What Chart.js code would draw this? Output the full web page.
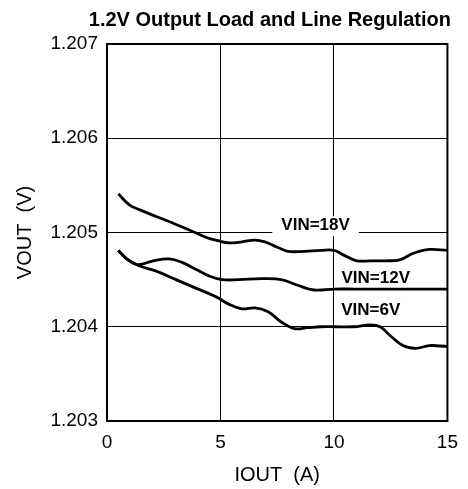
<!DOCTYPE html>
<html>
<head>
<meta charset="utf-8">
<script src="https://cdn.jsdelivr.net/npm/chart.js@4"></script>
<style>
  html, body { margin: 0; padding: 0; background: #fff; }
  #wrap { width: 468px; height: 489px; }
</style>
</head>
<body>
<div id="wrap"><canvas id="chart" width="468" height="489"></canvas></div>
<script>
const xTicks = [0, 5, 10, 15]
const yTicks = [1.203, 1.204, 1.205, 1.206, 1.207]

/* VIN = 18V */
const iout18 = [0.5, 1.0, 1.45, 2.17, 2.9, 3.6, 4.35, 4.93, 5.36, 5.94, 6.52, 6.96, 7.54, 7.97, 8.7, 9.42, 10.0, 10.43, 11.0, 11.6, 12.3, 12.9, 13.5, 14.2, 15]
const vout18 = [1.20541, 1.20529, 1.20524, 1.20517, 1.2051, 1.20503, 1.20495, 1.20491, 1.20489, 1.2049, 1.20492, 1.2049, 1.20484, 1.2048, 1.2048, 1.20481, 1.20481, 1.20476, 1.2047, 1.2047, 1.2047, 1.20471, 1.20478, 1.20482, 1.20481]

/* VIN = 12V */
const iout12 = [0.5, 0.87, 1.38, 2.03, 2.75, 3.33, 3.91, 4.49, 5.07, 5.8, 6.81, 7.68, 8.4, 9.13, 10.0, 10.87, 15]
const vout12 = [1.20481, 1.20472, 1.20466, 1.2047, 1.20472, 1.20468, 1.20461, 1.20454, 1.2045, 1.2045, 1.20451, 1.2045, 1.20444, 1.20439, 1.2044, 1.2044, 1.2044]

/* VIN = 6V */
const iout6 = [0.5, 0.87, 1.38, 2.17, 3.04, 3.91, 4.78, 5.36, 5.94, 6.52, 7.1, 7.68, 8.26, 8.84, 9.42, 10.0, 10.87, 11.6, 12.03, 12.46, 13.04, 13.6, 14.2, 15]
const vout6 = [1.20481, 1.20472, 1.20465, 1.20459, 1.2045, 1.20441, 1.20432, 1.20424, 1.20419, 1.2042, 1.20416, 1.20405, 1.20398, 1.20399, 1.204, 1.204, 1.204, 1.20402, 1.204, 1.20391, 1.2038, 1.20377, 1.2038, 1.20379]

/* curve labels, in data units */
const labelText = ["VIN=18V", "VIN=12V", "VIN=6V"]
const labelX = [9.19, 11.84, 11.62]
const labelY = [1.205088, 1.204524, 1.204181]

const FONT = "'Liberation Sans', Arial, sans-serif"

function pts(xs, ys) {
    return xs.map((x, i) => ({ x: x, y: ys[i] }))
}

function series(xs, ys) {
    return {
        data: pts(xs, ys),
        borderColor: "#000",
        borderWidth: 2.8,
        pointRadius: 0,
        tension: 0.4,
        fill: false
    }
}

const frame = {
    id: "frame",
    afterDatasetsDraw(chart) {
        const ctx = chart.ctx
        const a = chart.chartArea
        const sx = chart.scales.x, sy = chart.scales.y
        ctx.save()
        ctx.font = "bold 17px " + FONT
        ctx.textAlign = "center"
        ctx.textBaseline = "middle"
        labelText.forEach((t, i) => {
            const px = sx.getPixelForValue(labelX[i])
            const py = sy.getPixelForValue(labelY[i])
            if (i === 0) {
                const w = ctx.measureText(t).width
                ctx.fillStyle = "#fff"
                ctx.fillRect(px - w / 2 - 9, py - 8, w + 18, 20)
            }
            ctx.fillStyle = "#000"
            ctx.fillText(t, px, py + 1)
        })
        ctx.strokeStyle = "#000"
        ctx.lineWidth = 2
        ctx.strokeRect(a.left, a.top, a.right - a.left, a.bottom - a.top)
        ctx.restore()
    }
}

new Chart(document.getElementById("chart"), {
    type: "line",
    data: {
        datasets: [series(iout18, vout18), series(iout12, vout12), series(iout6, vout6)]
    },
    options: {
        responsive: false,
        animation: false,
        layout: { padding: { left: 0, right: 17, top: 0, bottom: 0 } },
        plugins: {
            legend: { display: false },
            tooltip: { enabled: false },
            title: {
                display: true,
                align: "end",
                text: "1.2V Output Load and Line Regulation",
                color: "#000",
                font: { family: FONT, size: 20, weight: "bold" },
                padding: { top: 8, bottom: 12 }
            }
        },
        scales: {
            x: {
                type: "linear",
                min: 0,
                max: 15,
                afterBuildTicks: s => { s.ticks = xTicks.map(v => ({ value: v })) },
                afterFit: s => { s.height = 68 },
                grid: { color: "#000", lineWidth: 1, drawTicks: false },
                border: { display: false },
                ticks: { color: "#000", padding: 10, maxRotation: 0, font: { family: FONT, size: 19 } },
                title: {
                    display: true,
                    text: "IOUT  (A)",
                    color: "#000",
                    font: { family: FONT, size: 20 },
                    padding: { top: 0, bottom: 2 }
                }
            },
            y: {
                type: "linear",
                min: 1.203,
                max: 1.207,
                afterBuildTicks: s => { s.ticks = yTicks.map(v => ({ value: v })) },
                afterFit: s => { s.width = 107 },
                grid: { color: "#000", lineWidth: 1, drawTicks: false },
                border: { display: false },
                ticks: {
                    color: "#000",
                    padding: 9,
                    font: { family: FONT, size: 19 },
                    callback: v => v.toFixed(3)
                },
                title: {
                    display: true,
                    text: "VOUT  (V)",
                    color: "#000",
                    font: { family: FONT, size: 20 },
                    padding: { top: 13, bottom: 0 }
                }
            }
        }
    },
    plugins: [frame]
})
</script>
</body>
</html>
